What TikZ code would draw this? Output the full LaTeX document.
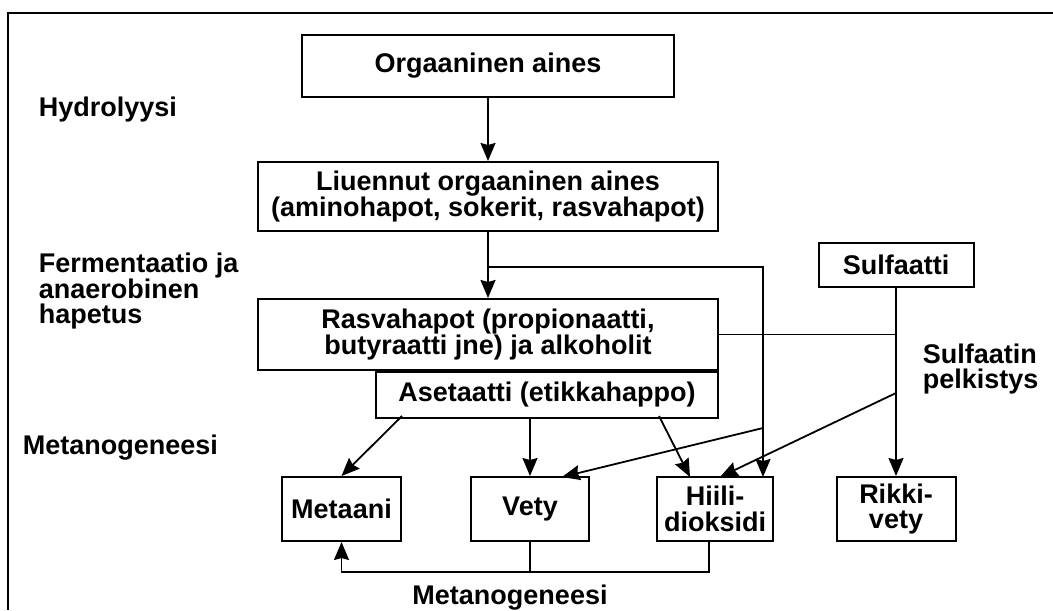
\documentclass[tikz,border=0pt]{standalone}
\usepackage{fontspec}
\setmainfont{Liberation Sans}
\usetikzlibrary{arrows.meta,positioning}

\begin{document}
\begin{tikzpicture}[x=0.5pt,y=-0.5pt,line width=0.9pt,
  >={Stealth[length=9pt,width=7.5pt,inset=1pt]},
  font=\fontsize{13.5}{12.8}\selectfont\bfseries,
  box/.style={draw,line width=1pt,inner sep=0pt,align=center},
  stage/.style={anchor=west,align=left,inner sep=0pt}]

\useasboundingbox (0,0) rectangle (1053,610);
\draw[line width=1pt] (8,610) -- (8,13) -- (1053,13);

% boxes
\node[box,minimum width=186pt,minimum height=31pt] (org) at (488,66) {Orgaaninen aines};
\node[box,minimum width=230pt,minimum height=34.5pt] (liu) at (488,196.5)
  {Liuennut orgaaninen aines\\(aminohapot, sokerit, rasvahapot)};
\node[box,minimum width=230pt,minimum height=35.5pt] (rasva) at (488,334.5)
  {Rasvahapot (propionaatti,\\butyraatti jne) ja alkoholit};
\node[box,minimum width=171pt,minimum height=23pt,anchor=north east] (aset) at (rasva.south east)
  {Asetaatti (etikkahappo)};
\node[box,minimum width=77.5pt,minimum height=22pt] (sulf) at (896,265) {Sulfaatti};

\node[box,minimum width=59.5pt,minimum height=32pt] (metaani) at (341.5,509) {Metaani};
\node[box,minimum width=59pt,minimum height=32pt] (vety) at (530,509) {Vety};
\node[box,minimum width=58pt,minimum height=32pt] (hiili) at (715,509) {Hiili-\\dioksidi};
\node[box,minimum width=59.5pt,minimum height=32pt] (rikki) at (896,509) {Rikki-\\vety};

% stages
\node[stage] (hydro) at (38,110) {Hydrolyysi};
\node[stage,anchor=north west] (ferm) at (38,252) {Fermentaatio ja\\anaerobinen\\hapetus};
\node[stage] (meta) at (22,448) {Metanogeneesi};
\node[stage] (pelk) at (922,369) {Sulfaatin\\pelkistys};
\node (meta2) at (510,598) {Metanogeneesi};

% junctions
\coordinate (j1) at (488,267);
\coordinate (j2) at (763,428);
\coordinate (s1) at (896,393);
\coordinate (a1) at (402,416);
\coordinate (a2) at (659,416);
\coordinate (h1) at (690,477);
\coordinate (h2) at (720,477);
\coordinate (h3) at (763,477);
\coordinate (v1) at (562,477);
\coordinate (m1) at (709,572);

\draw[->] (org) -- (liu);
\draw[->] (liu) -- (rasva);
\draw[->] (j1) -| (h3);
\draw[->] (sulf) -- (rikki);
\draw (rasva.east) -- (rasva.east -| sulf);
\draw[->] (s1) -- (h2);
\draw[->] (j2) -- (v1);
\draw[->] (a1) -- (metaani.north);
\draw[->] (aset.south -| vety) -- (vety);
\draw[->] (a2) -- (h1);
\draw[->] (hiili.south -| m1) -- (m1) -| (metaani.south);
\draw (vety.south) -- (vety.south |- m1);
\end{tikzpicture}
\end{document}
